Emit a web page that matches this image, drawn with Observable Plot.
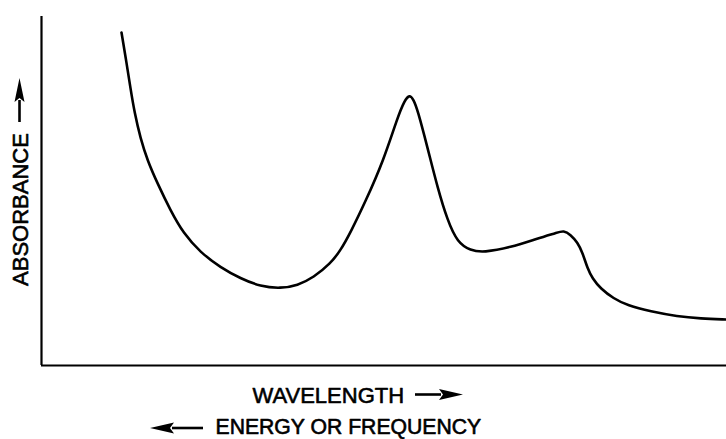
<!DOCTYPE html>
<html>
<head>
<meta charset="utf-8">
<script src="https://cdn.jsdelivr.net/npm/d3@7"></script>
<script src="https://cdn.jsdelivr.net/npm/@observablehq/plot@0.6"></script>
<style>
  html, body { margin: 0; padding: 0; background: #fff; }
  #chart svg { display: block; }
</style>
</head>
<body>
<div id="chart"></div>
<script>
// Absorption spectrum (arbitrary units)
const wavelength = [80, 85, 89, 93, 99, 106, 116, 129, 142, 159, 179, 199, 219, 239, 256, 272, 289, 299, 309, 324, 342, 356, 363, 368, 372, 376, 386, 396, 406, 416, 429, 442, 469, 496, 516, 522, 529, 536, 541, 546, 551, 559, 572, 586, 609, 636, 659, 685];
const absorbance = [333, 303, 277, 253, 227, 205, 182, 155, 132, 113, 98, 87, 79, 77, 80, 88, 102, 115, 133, 164, 205, 248, 265, 271, 266, 256, 218, 178, 145, 123, 115, 113, 118, 127, 133, 135, 131, 123, 113, 97, 87, 77, 67, 60, 54, 49, 47, 46];

const yLabel = ["ABSORBANCE"];
const xLabel = ["WAVELENGTH"];
const xLabel2 = ["ENERGY OR FREQUENCY"];

const data = wavelength.map((w, i) => ({w, a: absorbance[i]}));

const font = "'Liberation Sans', Arial, sans-serif";

// label arrows (line + filled head), placed relative to the frame
function labelArrows(index, scales, values, dimensions) {
  const {marginLeft, marginBottom, height} = dimensions;
  const fb = height - marginBottom; // frame bottom
  const g = d3.create("svg:g").attr("fill", "#000").attr("stroke", "#000");
  const arrow = (x0, y0, x1, y1, headLen, headHalf) => {
    const dx = x1 - x0, dy = y1 - y0, len = Math.hypot(dx, dy);
    const ux = dx / len, uy = dy / len, px = -uy, py = ux;
    const bx = x1 - ux * headLen, by = y1 - uy * headLen;
    g.append("line").attr("x1", x0).attr("y1", y0).attr("x2", bx + ux * 2).attr("y2", by + uy * 2)
      .attr("stroke-width", 2.6);
    g.append("path").attr("stroke", "none")
      .attr("d", `M${x1},${y1}L${bx + px * headHalf},${by + py * headHalf}L${bx + ux * 4},${by + uy * 4}L${bx - px * headHalf},${by - py * headHalf}Z`);
  };
  // WAVELENGTH →
  arrow(marginLeft + 374, fb + 29.5, marginLeft + 422, fb + 29.5, 24, 5.5);
  // ← ENERGY OR FREQUENCY
  arrow(marginLeft + 162, fb + 63, marginLeft + 109, fb + 63, 24, 5.5);
  // ABSORBANCE ↑
  arrow(marginLeft - 21.5, fb - 243, marginLeft - 21.5, fb - 287, 24, 5);
  return g.node();
}

const chart = Plot.plot({
  width: 726,
  height: 439,
  marginLeft: 41,
  marginRight: 0,
  marginTop: 16,
  marginBottom: 74,
  x: {domain: [0, 685], axis: null},
  y: {domain: [0, 349], axis: null},
  style: {fontFamily: font, background: "#fff", color: "#000"},
  marks: [
    Plot.ruleX([0], {stroke: "#000", strokeWidth: 2.2}),
    Plot.ruleY([0], {stroke: "#000", strokeWidth: 2.2}),
    Plot.line(data, {x: "w", y: "a", curve: "basis", stroke: "#000", strokeWidth: 2.6}),
    Plot.text(yLabel, {text: d => d, frameAnchor: "left", rotate: -90, dx: -20.5, dy: 18.5, fontSize: 22, textAnchor: "middle", fill: "#000", stroke: "#000", strokeWidth: 0.6}),
    Plot.text(xLabel, {text: d => d, frameAnchor: "bottom-left", dx: 211, dy: 37, lineAnchor: "bottom", textAnchor: "start", fontSize: 22, fill: "#000", stroke: "#000", strokeWidth: 0.6}),
    Plot.text(xLabel2, {text: d => d, frameAnchor: "bottom-left", dx: 174, dy: 68, lineAnchor: "bottom", textAnchor: "start", fontSize: 21.2, fill: "#000", stroke: "#000", strokeWidth: 0.6}),
    labelArrows
  ]
});
document.getElementById("chart").appendChild(chart);
</script>
</body>
</html>
